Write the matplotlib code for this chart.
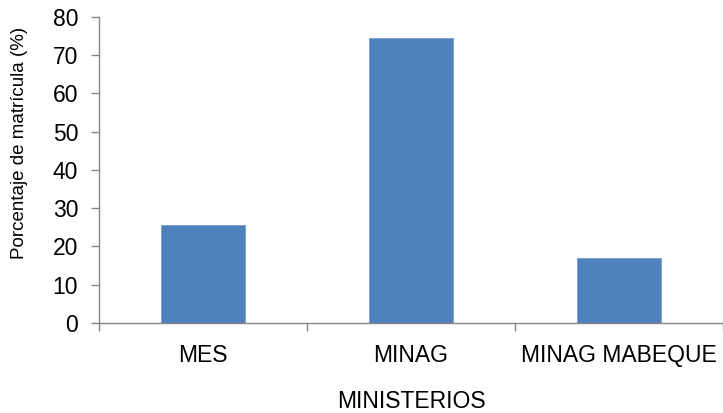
import numpy as np
import matplotlib.pyplot as plt
from matplotlib.ticker import FixedLocator, NullFormatter

plt.rcParams['font.family'] = ['Liberation Sans', 'DejaVu Sans']

ministerios = ['MES', 'MINAG', 'MINAG MABEQUE']
porcentaje = [25.5, 74.4, 17.0]
y_ticks = [0, 10, 20, 30, 40, 50, 60, 70, 80]

fig = plt.figure(figsize=(7.23, 4.13), dpi=100)
ax = fig.add_axes([0.137, 0.218, 0.863, 0.741])

pos = np.arange(len(ministerios))
ax.bar(pos, porcentaje, width=0.4, color='#4F81BD', edgecolor='#6C95C8', linewidth=0.5)

ax.set_xlim(-0.5, len(ministerios) - 0.5)
ax.set_ylim(0, 80)
ax.set_yticks(y_ticks)

# category labels at centres, tick marks at category borders
ax.set_xticks(pos)
ax.set_xticklabels(ministerios, fontsize=16.5)
ax.xaxis.set_minor_locator(FixedLocator(np.arange(len(ministerios) + 1) - 0.5))
ax.xaxis.set_minor_formatter(NullFormatter())
ax.tick_params(axis='x', which='major', length=0, pad=15)
ax.tick_params(axis='x', which='minor', length=6, width=1, color='#868686')
ax.tick_params(axis='y', length=6, width=1, color='#868686', pad=9, labelsize=16.5)

for side in ['top', 'right']:
    ax.spines[side].set_visible(False)
for side in ['left', 'bottom']:
    ax.spines[side].set_color('#868686')
    ax.spines[side].set_linewidth(1)

fig.text(20 / 723, 1 - 143 / 413, 'Porcentaje de matrícula (%)', rotation=90,
         ha='center', va='center', fontsize=13.5)
fig.text(411 / 723, 1 - 401 / 413, 'MINISTERIOS', ha='center', va='center', fontsize=16.5)

fig.savefig('out.png', dpi=100)
